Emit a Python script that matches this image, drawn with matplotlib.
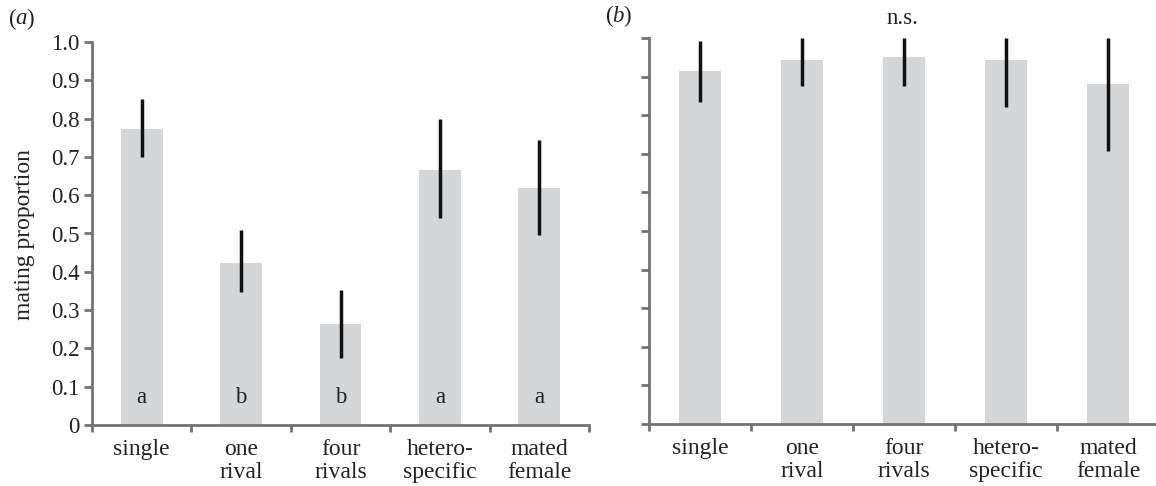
import matplotlib
matplotlib.use("Agg")
import matplotlib.pyplot as plt
import numpy as np

plt.rcParams['font.family'] = ['Liberation Serif', 'DejaVu Serif']

categories = ["single", "one\nrival", "four\nrivals", "hetero-\nspecific", "mated\nfemale"]

# panel (a)
a_values = [0.772, 0.423, 0.264, 0.667, 0.618]
a_err_low = [0.700, 0.347, 0.175, 0.540, 0.496]
a_err_high = [0.850, 0.509, 0.352, 0.800, 0.744]
a_letters = ["a", "b", "b", "a", "a"]

# panel (b)
b_values = [0.915, 0.943, 0.950, 0.943, 0.880]
b_err_low = [0.835, 0.876, 0.876, 0.820, 0.707]
b_err_high = [0.992, 1.0, 1.0, 1.0, 1.0]

yticks = [0, 0.1, 0.2, 0.3, 0.4, 0.5, 0.6, 0.7, 0.8, 0.9, 1.0]
ytick_labels = ["0", "0.1", "0.2", "0.3", "0.4", "0.5", "0.6", "0.7", "0.8", "0.9", "1.0"]

W, H = 1156, 486
fig = plt.figure(figsize=(W / 100, H / 100), dpi=100)

def px_axes(l, r, b, t):
    return fig.add_axes([l / W, (H - b) / H, (r - l) / W, (b - t) / H])

ax_a = px_axes(92, 589, 425, 42)
ax_b = px_axes(649, 1159, 424, 38)

bar_color = "#d5d6d8"
spine_color = "#737373"
FS_TICK = 16.5
FS_CAT = 17

def style(ax, labels_on):
    x = np.arange(len(categories)) + 0.5
    ax.set_xlim(0, len(categories))
    ax.set_ylim(0, 1.0)
    for s in ["top", "right"]:
        ax.spines[s].set_visible(False)
    for s in ["left", "bottom"]:
        ax.spines[s].set_color(spine_color)
        ax.spines[s].set_linewidth(2)
    ax.set_yticks(yticks)
    if labels_on:
        ax.set_yticklabels(ytick_labels)
    else:
        ax.set_yticklabels([])
    ax.set_xticks(np.arange(len(categories) + 1))
    ax.set_xticklabels([])
    ax.set_xticks(x, minor=True)
    ax.set_xticklabels(categories, minor=True, linespacing=1.12)
    ax.tick_params(axis="x", which="minor", length=0, pad=10, labelsize=FS_CAT, labelcolor="#222222")
    ax.tick_params(axis="x", which="major", direction="out", length=5, width=2, color=spine_color)
    ax.tick_params(axis="y", direction="out", length=6, width=2, color=spine_color,
                   labelsize=FS_TICK, pad=3, labelcolor="#222222")
    return x

x = style(ax_a, True)
ax_a.bar(x, a_values, width=0.42, color=bar_color)
for xi, lo, hi in zip(x, a_err_low, a_err_high):
    ax_a.plot([xi, xi], [lo, hi], color="#111111", lw=2.5, solid_capstyle="butt", clip_on=False)
for xi, t in zip(x, a_letters):
    ax_a.text(xi, 0.073, t, ha="center", va="center", fontsize=FS_TICK, color="#222222")

fig.text(25 / W, 1 - 235 / H, "mating proportion", fontsize=FS_CAT, rotation=90,
         va="center", ha="center", color="#222222")

x = style(ax_b, False)
ax_b.bar(x, b_values, width=0.42, color=bar_color)
for xi, lo, hi in zip(x, b_err_low, b_err_high):
    ax_b.plot([xi, xi], [lo, hi], color="#111111", lw=2.5, solid_capstyle="butt", clip_on=False)

fig.text(9 / W, 1 - 19 / H, "(", fontsize=FS_TICK, va="center", ha="left", color="#222222")
fig.text(15 / W, 1 - 19 / H, "a", fontsize=FS_TICK, va="center", ha="left", style="italic", color="#222222")
fig.text(26 / W, 1 - 19 / H, ")", fontsize=FS_TICK, va="center", ha="left", color="#222222")
fig.text(606 / W, 1 - 16 / H, "(", fontsize=FS_TICK, va="center", ha="left", color="#222222")
fig.text(612 / W, 1 - 16 / H, "b", fontsize=FS_TICK, va="center", ha="left", style="italic", color="#222222")
fig.text(623 / W, 1 - 16 / H, ")", fontsize=FS_TICK, va="center", ha="left", color="#222222")
fig.text(902 / W, 1 - 19 / H, "n.s.", fontsize=FS_TICK, va="center", ha="center", color="#222222")

fig.savefig("out.png", dpi=100)
